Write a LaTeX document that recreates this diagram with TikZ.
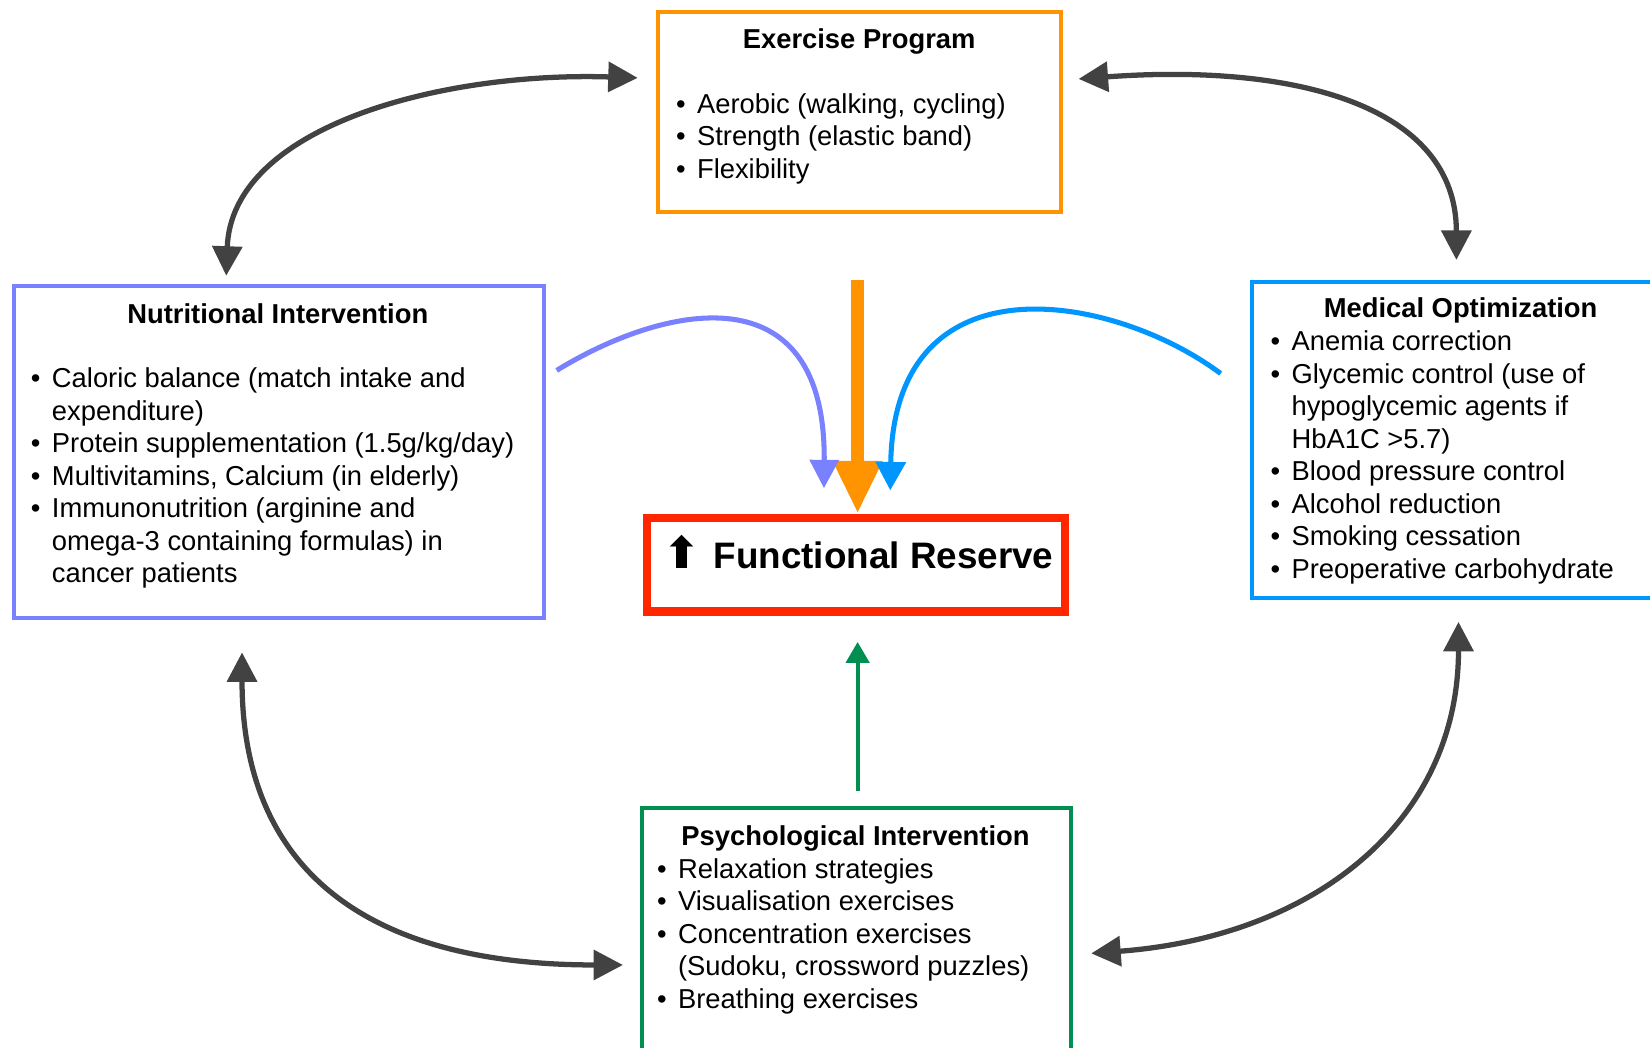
\documentclass[tikz,border=0pt]{standalone}
\usepackage{fontspec}
\setmainfont{Liberation Sans}
\newfontfamily\symfont{DejaVu Sans}
\usetikzlibrary{arrows.meta,calc}
\definecolor{cOr}{HTML}{FF9300}
\definecolor{cLav}{HTML}{7A81FF}
\definecolor{cAq}{HTML}{0096FF}
\definecolor{cRed}{HTML}{FF2600}
\definecolor{cMoss}{HTML}{008F51}
\definecolor{cGr}{HTML}{424242}
\newcommand{\itm}{\makebox[10pt][l]{•}}
\newcommand{\cnt}{\hspace*{10pt}}
\begin{document}
\begin{tikzpicture}[x=0.5pt,y=-0.5pt,
  box/.style={draw, line width=1.9pt, anchor=north west, inner sep=0pt, outer sep=0pt},
  lst/.style={anchor=north west, align=left, inner sep=0pt, font=\fontsize{13}{15.45}\selectfont},
  ttl/.style={anchor=base, inner sep=0pt, font=\fontsize{13}{15.45}\selectfont\bfseries},
  gar/.style={draw=cGr, line width=2.5pt, arrows={Triangle[length=14pt,width=14pt]-Triangle[length=14pt,width=14pt]}},
  ]
\useasboundingbox (0,0) rectangle (1568,995);
\clip (0,0) rectangle (1568,995);

% boxes
\node[box, draw=cOr, minimum width=191.5pt, minimum height=95pt] (ex) at (625,11) {};
\node[box, draw=cLav, minimum width=252pt, minimum height=157.5pt] (nut) at (13,272) {};
\node[box, draw=cAq, line width=2pt, minimum width=200pt, minimum height=150pt] (med) at (1190,268) {};
\node[box, draw=cRed, line width=4pt, minimum width=198.5pt, minimum height=44.5pt] (fr) at (615,492) {};
\node[box, draw=cMoss, minimum width=204pt, minimum height=130pt] (psy) at (610,768) {};

% titles
\node[ttl] (ext) at (816.5,46) {Exercise Program};
\node[ttl] (nutt) at (264,307) {Nutritional Intervention};
\node[ttl] (medt) at (1388,302) {Medical Optimization};
\node[ttl] (psyt) at (813,803) {Psychological Intervention};
\node[anchor=base, inner sep=0pt, font=\fontsize{17.5}{20}\selectfont\bfseries] (frt) at (816,540)
  {{\symfont\fontsize{21}{22}\selectfont ⬆}\hspace{6pt}Functional Reserve};

% lists
\node[lst] (exl) at (642,85.4) {\strut\itm Aerobic (walking, cycling)\\
  \itm Strength (elastic band)\\
  \itm Flexibility};
\node[lst] (nutl) at (29,346.4) {\strut\itm Caloric balance (match intake and\\
  \cnt expenditure)\\
  \itm Protein supplementation (1.5g/kg/day)\\
  \itm Multivitamins, Calcium (in elderly)\\
  \itm Immunonutrition (arginine and\\
  \cnt omega-3 containing formulas) in\\
  \cnt cancer patients};
\node[lst] (medl) at (1207,311.4) {\strut\itm Anemia correction\\
  \itm Glycemic control (use of\\
  \cnt hypoglycemic agents if\\
  \cnt HbA1C >5.7)\\
  \itm Blood pressure control\\
  \itm Alcohol reduction\\
  \itm Smoking cessation\\
  \itm Preoperative carbohydrate};
\node[lst] (psyl) at (624,812.4) {\strut\itm Relaxation strategies\\
  \itm Visualisation exercises\\
  \itm Concentration exercises\\
  \cnt (Sudoku, crossword puzzles)\\
  \itm Breathing exercises};

% gray double arrows
\draw[gar] ($(nut.north west)+(202,-10)$) .. controls +(5,-142) and +(-186,-6) .. ($(ex.west)+(-19,-32)$);
\draw[gar] ($(ex.east)+(17,-31)$) .. controls +(205,-15) and +(0,-147) .. ($(med.north west)+(194,-21)$);
\draw[gar] ($(nut.south west)+(217,33)$) .. controls +(0,200) and +(-252,0) .. ($(psy.north west)+(-18,149)$);
\draw[gar] ($(med.south west)+(196,23)$) .. controls +(0,189) and +(213,-16) .. ($(psy.north east)+(19,138)$);

% arrows into Functional Reserve
\draw[draw=cOr, line width=6pt, arrows={-Triangle[length=25pt,width=22pt]}] ($(ex.south)+(-1.5,65)$) -- ($(fr.north)+(1.5,-4)$);
\draw[draw=cLav, line width=2.4pt, arrows={-Triangle[length=13.5pt,width=13.5pt]}] ($(nut.north east)+(12,80)$) .. controls +(101,-62) and +(2,-209) .. ($(fr.north)+(-30.5,-28)$);
\draw[draw=cAq, line width=2.4pt, arrows={-Triangle[length=13.5pt,width=14pt]}] ($(med.north west)+(-30,87)$) .. controls +(-100,-75) and +(4,-226) .. ($(fr.north)+(32.5,-26)$);
\draw[draw=cMoss, line width=2pt, arrows={-Triangle[length=10pt,width=11pt]}] ($(psy.north)+(1,-16)$) -- ($(fr.south)+(1.5,29)$);
\end{tikzpicture}
\end{document}
